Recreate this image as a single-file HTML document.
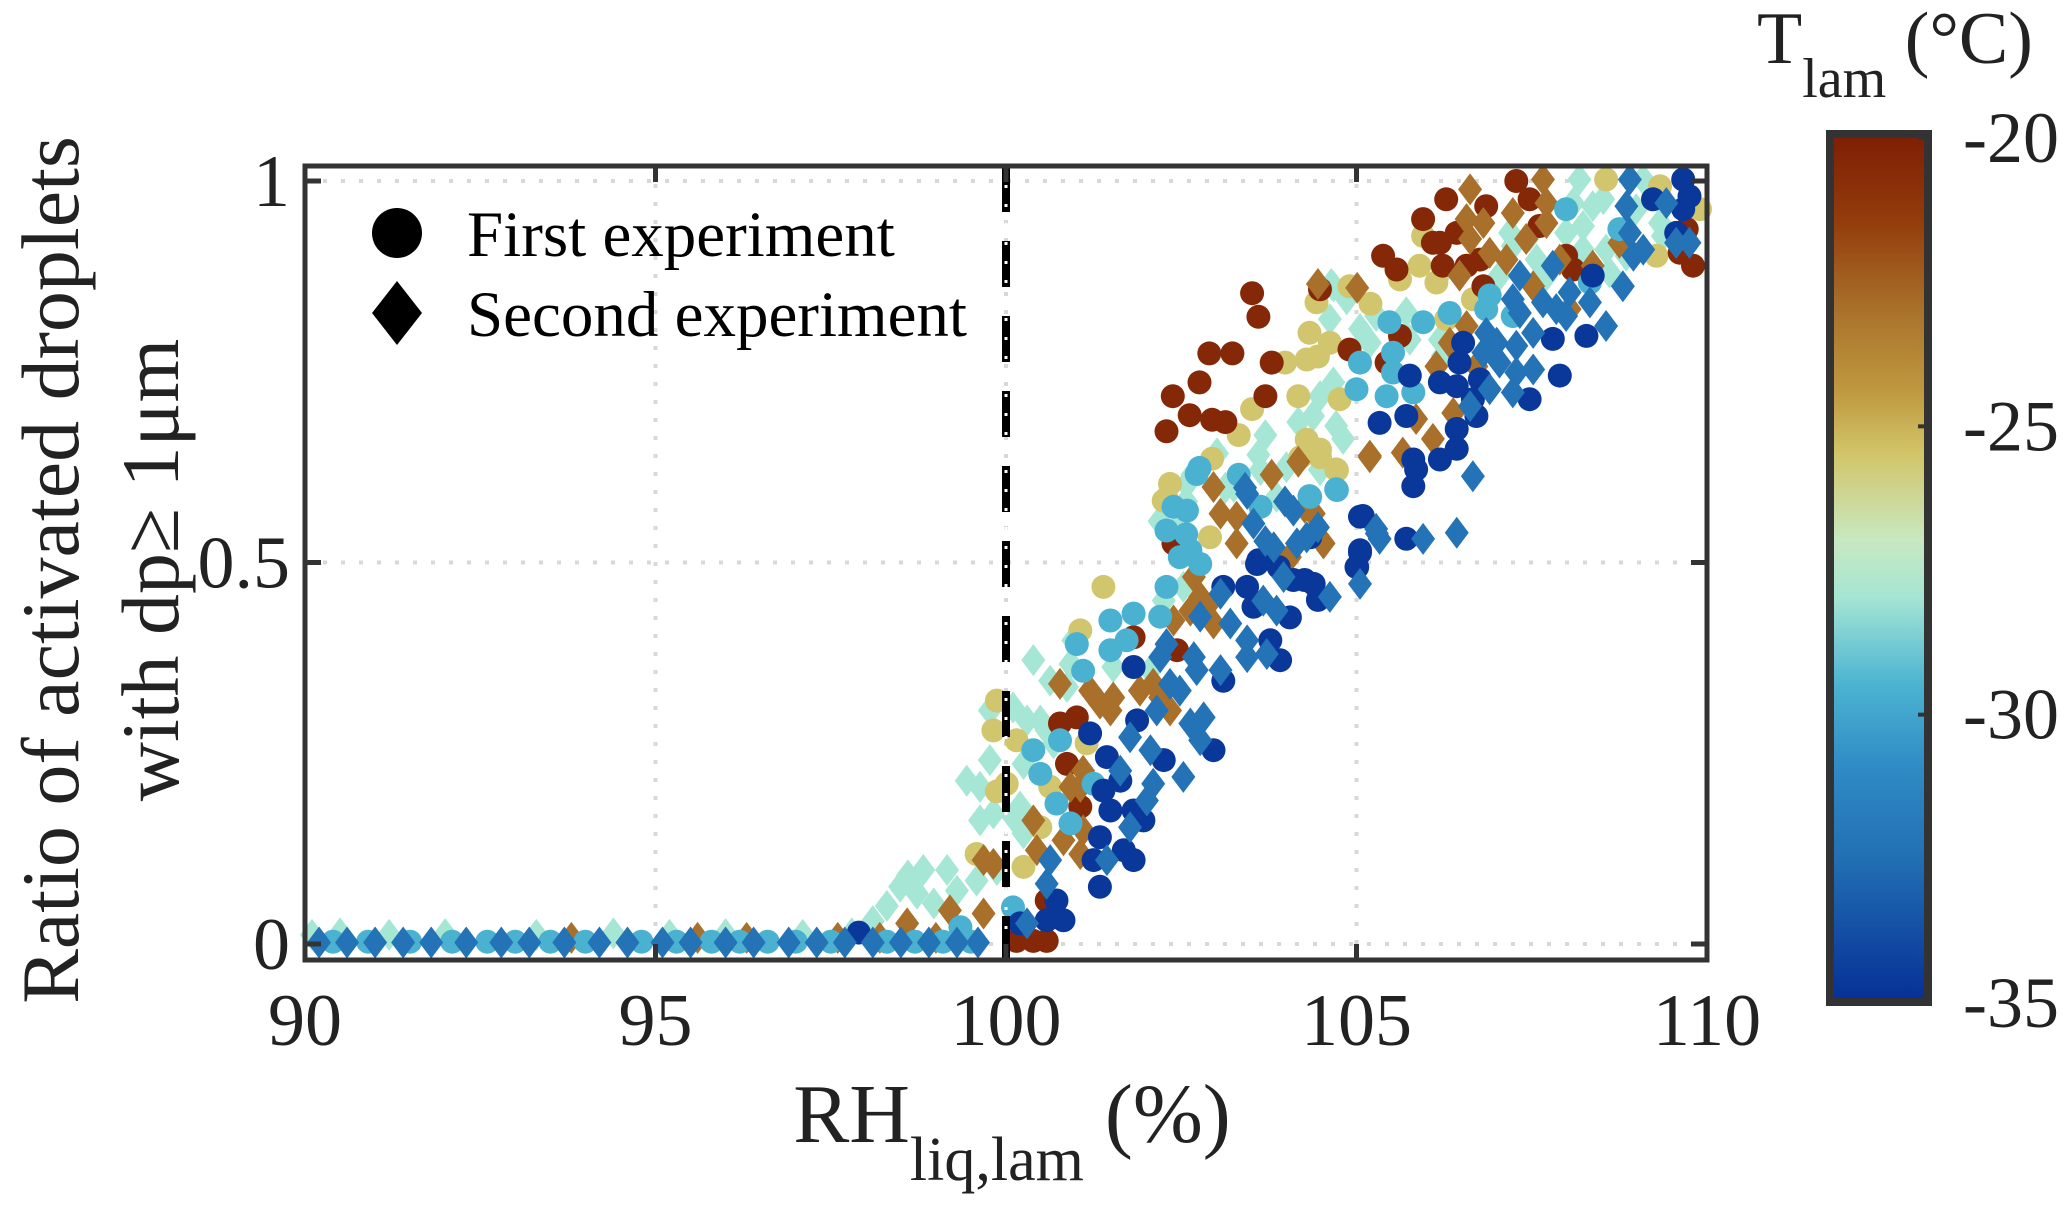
<!DOCTYPE html>
<html><head><meta charset="utf-8">
<style>
html,body{margin:0;padding:0;background:#fff;}
svg{display:block;font-family:"Liberation Serif","DejaVu Serif",serif;}
</style></head>
<body>
<svg id="chart" width="2067" height="1211" viewBox="0 0 2067 1211" xmlns="http://www.w3.org/2000/svg">
<defs>
<linearGradient id="cbgrad" x1="0" y1="0" x2="0" y2="1">
<stop offset="0" stop-color="#7e1e05"/>
<stop offset="0.1" stop-color="#933c0c"/>
<stop offset="0.2" stop-color="#a8702a"/>
<stop offset="0.3" stop-color="#c09a40"/>
<stop offset="0.367" stop-color="#d2c468"/>
<stop offset="0.467" stop-color="#c8e8c0"/>
<stop offset="0.533" stop-color="#a6e6d4"/>
<stop offset="0.633" stop-color="#4cb4d2"/>
<stop offset="0.733" stop-color="#2e8ac4"/>
<stop offset="0.833" stop-color="#2270b4"/>
<stop offset="1" stop-color="#062f96"/>
</linearGradient>
</defs>
<g id="grid"></g>
<g id="marks"></g>
<g id="axes"></g>
<g>
<circle cx="397" cy="233" r="25" fill="#000"/>
<text x="467" y="256" font-size="65" fill="#000">First experiment</text>
<polygon points="397,281 422,313 397,345 372,313" fill="#000"/>
<text x="467" y="336" font-size="65" fill="#000">Second experiment</text>
</g>
<g>
<text x="1012" y="1142" font-size="84" text-anchor="middle" fill="#222">RH<tspan font-size="62" dy="38">liq,lam</tspan><tspan dy="-38"> (%)</tspan></text>
</g>
<g>
<text transform="translate(78,570) rotate(-90)" font-size="82" text-anchor="middle" fill="#222">Ratio of activated droplets</text>
<text transform="translate(178,570) rotate(-90)" font-size="82" text-anchor="middle" fill="#222">with dp≥ 1μm</text>
</g>
<g>
<rect x="1830" y="134" width="98" height="868" fill="url(#cbgrad)" stroke="#333" stroke-width="8"/>
<text x="1757" y="63" font-size="74" fill="#222">T<tspan font-size="56" dy="34">lam</tspan><tspan dy="-34"> (°C)</tspan></text>
</g>
<g id="cbticks"></g>
</svg>
<script>
// ---- data ----
const xTicks = [90, 95, 100, 105, 110];
const yTicks = [0, 0.5, 1];
const yTickLabels = ["0", "0.5", "1"];
const cbTicks = [-20, -25, -30, -35];
const thresholdRH = [100];

// temperatures of each colour group (°C)
const groupTemps = {darkRed:-20.5, brown:-23, gold:-25.6, mint:-28, cyan:-29.6, midBlue:-32.3, darkBlue:-34.7};

// First experiment (circles)
const circDarkRed = [[100.58,0.004],[100.39,0.004],[100.15,0.004],[101.01,0.297],[100.87,0.236],[101.82,0.402],[102.44,0.385],[101.06,0.18],[100.77,0.289],[102.39,0.525],[100.58,0.057],
[107.28,1.0],[106.28,0.976],[105.95,0.95],[105.38,0.902],[105.57,0.884],[106.19,0.919],[106.43,0.932],[106.85,0.967],[106.76,0.897],[107.47,0.976],[104.48,0.858],[104.9,0.779],[105.43,0.762],[105.62,0.797],[106.23,0.889],[106.57,0.889],[106.81,0.862],[107.99,0.902],[108.09,0.884],[109.8,0.889],[109.61,0.906],[109.71,0.937],[106.09,0.919],[107.61,0.941],
[102.29,0.672],[102.62,0.693],[102.9,0.774],[103.23,0.774],[103.51,0.853],[103.6,0.822],[103.79,0.762],[102.94,0.687],[103.13,0.684],[102.38,0.718],[102.76,0.736],[103.7,0.718]];
const circGold = [[99.87,0.319],[99.82,0.28],[99.58,0.118],[100.25,0.101],[100.49,0.153],[100.63,0.206],[100.15,0.267],[101.06,0.411],[101.39,0.468],[102.25,0.581],[102.91,0.533],[102.34,0.603],[101.15,0.263],[104.2,0.638],[104.72,0.621],[104.48,0.638],[100.01,0.21],[99.87,0.2],
[105.95,0.928],[105.62,0.871],[105.9,0.889],[106.14,0.867],[104.9,0.862],[104.43,0.841],[104.33,0.801],[104.62,0.788],[104.29,0.766],[104.76,0.714],[104.29,0.661],[104.71,0.622],[104.48,0.648],[106.66,0.845],[109.33,0.993],[109.28,0.902],[109.9,0.963],[108.56,1.002],[106.28,0.819],
[103.32,0.667],[103.51,0.701],[104.17,0.718],[104.45,0.77],[103.98,0.762],[102.29,0.584],[102.94,0.636],[105.2,0.839]];
const circCyan = [[100.1,0.048],[99.35,0.022],[100.39,0.254],[100.49,0.223],[100.77,0.267],[100.72,0.184],[100.92,0.158],[101.01,0.393],[101.1,0.358],[101.49,0.424],[101.82,0.433],[101.72,0.398],[101.49,0.385],[102.2,0.429],[102.29,0.468],[102.29,0.542],[102.39,0.573],[102.58,0.568],[102.48,0.507],[102.77,0.498],[102.63,0.516],[103.63,0.573],[104.34,0.586],[104.72,0.595],[102.72,0.616],[101.25,0.21],
[105.05,0.762],[105.0,0.727],[105.47,0.815],[105.52,0.775],[105.52,0.749],[105.43,0.718],[105.81,0.723],[105.95,0.815],[106.33,0.827],[106.9,0.85],[106.85,0.832],[107.23,0.823],[107.99,0.963],[108.33,0.867],[108.75,0.937],[104.33,0.587],[104.71,0.596],
[102.76,0.624],[102.57,0.537],[103.32,0.615],
[90.4,0.003],[90.9,0.003],[91.5,0.003],[92.1,0.003],[92.6,0.003],[93.0,0.003],[93.5,0.003],[94.0,0.003],[94.8,0.003],[95.3,0.003],[95.8,0.003],[96.2,0.003],[96.6,0.003],[97.0,0.003],[97.5,0.003],[98.3,0.003],[98.7,0.003],[99.1,0.003],[99.5,0.003]];
const circDarkBlue = [[101.34,0.075],[101.34,0.14],[101.25,0.11],[101.82,0.11],[101.68,0.123],[101.49,0.175],[101.82,0.175],[101.96,0.162],[101.39,0.201],[101.63,0.214],[101.44,0.245],[101.2,0.276],[101.87,0.293],[101.82,0.363],[102.25,0.241],[102.96,0.254],[103.1,0.345],[103.91,0.372],[103.77,0.398],[104.05,0.428],[103.53,0.442],[103.44,0.468],[103.1,0.468],[103.58,0.498],[104.1,0.477],[104.39,0.472],[105.05,0.56],[105.05,0.516],[105.0,0.494],[104.34,0.533],[100.72,0.057],[100.82,0.031],[100.58,0.031],[100.2,0.027],[97.9,0.015],
[106.52,0.788],[106.47,0.762],[105.76,0.745],[106.19,0.736],[106.43,0.731],[106.76,0.74],[106.66,0.714],[106.71,0.692],[106.43,0.675],[106.43,0.649],[106.19,0.635],[105.81,0.635],[105.85,0.622],[105.81,0.6],[105.33,0.683],[105.71,0.692],[107.8,0.793],[108.28,0.797],[107.9,0.745],[107.47,0.714],[109.66,1.002],[109.75,0.98],[109.66,0.963],[109.23,0.976],[109.56,0.932],[105.09,0.561],[105.05,0.513],[105.71,0.531],[108.37,0.876],
[103.89,0.494],[104.26,0.477],[104.45,0.451],[103.6,0.503],[105.01,0.494]];

// Second experiment (diamonds)
const diaBrown = [[99.2,0.044],[99.68,0.04],[99.68,0.11],[99.82,0.105],[100.39,0.162],[100.44,0.123],[100.82,0.136],[101.06,0.118],[101.1,0.149],[101.06,0.206],[100.92,0.206],[101.1,0.227],[101.2,0.332],[101.34,0.315],[101.49,0.306],[101.53,0.323],[101.91,0.332],[102.1,0.341],[102.2,0.323],[102.34,0.306],[102.39,0.424],[102.63,0.437],[102.86,0.442],[102.96,0.42],[102.68,0.481],[102.77,0.455],[102.96,0.599],[103.06,0.564],[103.29,0.56],[103.29,0.525],[104.05,0.507],[104.39,0.564],[104.53,0.525],[105.19,0.638],[98.59,0.027],[100.77,0.341],
[106.62,0.989],[107.66,1.002],[106.57,0.95],[106.81,0.945],[106.62,0.924],[106.9,0.906],[107.23,0.958],[107.71,0.971],[107.71,0.945],[107.14,0.897],[107.42,0.924],[107.9,0.897],[107.52,0.862],[108.37,0.889],[108.75,0.919],[109.56,0.919],[106.47,0.876],[106.57,0.81],[106.33,0.788],[106.71,0.757],[106.14,0.757],[105.85,0.688],[106.09,0.662],[106.38,0.696],[105.19,0.64],[105.66,0.644],[104.38,0.565],[104.52,0.526],[108.04,0.832],
[103.79,0.615],[104.26,0.572],[104.17,0.632],[104.45,0.865],[105.01,0.86],
[93.8,0.008],[95.6,0.008],[96.3,0.008],[97.6,0.008],[98.2,0.008],[99.0,0.008]];
const diaMint = [[98.82,0.097],[99.16,0.097],[98.73,0.066],[98.97,0.053],[98.49,0.075],[99.44,0.214],[99.63,0.206],[99.77,0.241],[99.63,0.162],[99.82,0.171],[99.58,0.083],[99.87,0.097],[99.77,0.306],[100.1,0.31],[100.3,0.293],[100.49,0.293],[100.58,0.28],[100.68,0.263],[100.25,0.236],[100.2,0.18],[100.25,0.145],[100.1,0.167],[100.39,0.372],[100.63,0.345],[100.87,0.337],[100.92,0.367],[100.96,0.398],[101.53,0.363],[102.06,0.359],[102.25,0.45],[102.53,0.468],[102.48,0.551],[102.58,0.603],[103.01,0.643],[103.25,0.599],[103.63,0.621],[103.86,0.586],[104.0,0.625],[104.48,0.621],
[104.67,0.862],[104.86,0.845],[104.62,0.819],[105.28,0.823],[105.19,0.788],[105.05,0.806],[105.71,0.828],[105.76,0.792],[106.19,0.792],[106.23,0.771],[106.19,0.876],[104.67,0.736],[104.48,0.718],[104.38,0.692],[104.71,0.679],[104.81,0.662],[104.48,0.622],[107.19,0.932],[107.47,0.928],[107.23,0.915],[107.04,0.876],[107.57,0.897],[107.71,0.876],[108.18,1.002],[108.09,0.971],[107.99,0.932],[108.23,0.941],[108.37,0.967],[108.52,0.976],[108.23,0.91],[108.56,0.91],[108.61,0.88],[108.85,0.902],[109.09,1.002],[108.99,0.963],[109.33,0.945],[109.37,0.928],
[102.66,0.615],[103.13,0.598],[103.6,0.641],[102.57,0.58],[102.19,0.554],[103.7,0.667],[104.17,0.684],[104.64,0.865],
[90.1,0.012],[90.5,0.014],[91.2,0.012],[92.0,0.013],[93.3,0.012],[94.4,0.014],[95.2,0.012],[96.0,0.013],[97.1,0.012],[97.8,0.014],[98.1,0.03],[98.3,0.05],[98.6,0.09],[99.3,0.07]];
const diaMidBlue = [[101.44,0.11],[100.58,0.079],[100.63,0.11],[100.3,0.027],[101.77,0.153],[101.63,0.227],[101.77,0.271],[102.06,0.254],[102.1,0.21],[102.01,0.188],[102.53,0.219],[102.15,0.306],[102.34,0.341],[102.48,0.332],[102.63,0.289],[102.77,0.267],[102.82,0.297],[102.29,0.393],[102.2,0.376],[102.68,0.376],[102.72,0.359],[103.06,0.459],[103.2,0.42],[103.06,0.359],[103.44,0.376],[103.44,0.398],[103.72,0.38],[103.67,0.45],[103.86,0.437],[104.62,0.455],[103.82,0.52],[104.15,0.525],[104.29,0.533],[103.96,0.481],[105.05,0.472],[105.29,0.538],[104.1,0.568],[103.53,0.551],[103.44,0.59],[102.77,0.429],
[106.62,0.705],[106.9,0.727],[106.85,0.801],[107.0,0.788],[106.81,0.775],[107.04,0.762],[107.28,0.784],[107.28,0.749],[107.23,0.723],[107.52,0.753],[107.52,0.801],[107.33,0.827],[107.23,0.845],[107.33,0.876],[107.66,0.841],[107.8,0.889],[107.85,0.832],[107.99,0.823],[108.04,0.854],[108.33,0.841],[108.56,0.81],[108.8,0.862],[108.85,0.967],[108.9,0.932],[108.95,0.902],[109.09,0.91],[108.9,1.002],[109.42,0.971],[109.56,0.919],[109.75,0.919],[106.66,0.613],[106.43,0.539],[105.95,0.531],[105.33,0.531],[105.28,0.544],
[103.41,0.598],[103.7,0.528],[103.98,0.58],[104.45,0.546],
[90.2,0.002],[90.6,0.002],[91.0,0.002],[91.4,0.002],[91.8,0.002],[92.3,0.002],[92.8,0.002],[93.2,0.002],[93.7,0.002],[94.2,0.002],[94.6,0.002],[95.1,0.002],[95.5,0.002],[96.0,0.002],[96.4,0.002],[96.9,0.002],[97.3,0.002],[97.7,0.002],[98.1,0.002],[98.5,0.002],[98.9,0.002],[99.3,0.002],[99.6,0.002]];

// ---- scales ----
const X0=305, X1=1707, Y0=944, Y1=181;
function xs(v){return X0+(v-90)/(110-90)*(X1-X0);}
function ys(v){return Y0+(v-0)/(1-0)*(Y1-Y0);}
function cbY(t){return 138+(-20-t)/15*865;}
const cmapT=[-20,-21.5,-23,-24.5,-25.5,-27,-28,-29.5,-31,-32.5,-35];
const cmapC=["#7e1e05","#933c0c","#a8702a","#c09a40","#d2c468","#c8e8c0","#a6e6d4","#4cb4d2","#2e8ac4","#2270b4","#062f96"];
function hex(c){return [parseInt(c.substr(1,2),16),parseInt(c.substr(3,2),16),parseInt(c.substr(5,2),16)];}
function cmap(t){
  for(let i=0;i<cmapT.length-1;i++){
    if(t<=cmapT[i] && t>=cmapT[i+1]){
      const f=(cmapT[i]-t)/(cmapT[i]-cmapT[i+1]);
      const a=hex(cmapC[i]),b=hex(cmapC[i+1]);
      return "rgb("+a.map((v,k)=>Math.round(v+(b[k]-v)*f)).join(",")+")";
    }
  }
  return t>-20?cmapC[0]:cmapC[cmapC.length-1];
}
const NS="http://www.w3.org/2000/svg";
function mk(tag,attrs,parent){const e=document.createElementNS(NS,tag);for(const k in attrs)e.setAttribute(k,attrs[k]);parent.appendChild(e);return e;}

// ---- grid ----
const grid=document.getElementById('grid');
yTicks.forEach(v=>{
  const l=mk('line',{x1:X0,x2:X1,y1:ys(v),y2:ys(v),stroke:'#d8d8d8','stroke-width':4,'stroke-dasharray':'4 14'},grid);
  
  
});
xTicks.slice(1,-1).forEach(v=>{
  const l=mk('line',{x1:xs(v),x2:xs(v),y1:166,y2:960,stroke:'#d8d8d8','stroke-width':4,'stroke-dasharray':'4 14'},grid);
  
  
});

// ---- marks ----
const marks=document.getElementById('marks');
function circles(arr,t,name){
  arr.forEach(p=>{
    const c=mk('circle',{cx:xs(p[0]).toFixed(1),cy:ys(p[1]).toFixed(1),r:12,fill:cmap(t)},marks);
    
    
  });
}
function diamonds(arr,t,name){
  arr.forEach(p=>{
    const x=xs(p[0]),y=ys(p[1]);
    const d=mk('polygon',{points:`${x},${y-16} ${x+12},${y} ${x},${y+16} ${x-12},${y}`,fill:cmap(t)},marks);
    
    
  });
}
diamonds(diaMint,groupTemps.mint,'point-second-mint');
circles(circGold,groupTemps.gold,'point-first-gold');
circles(circDarkRed,groupTemps.darkRed,'point-first-darkred');
diamonds(diaBrown,groupTemps.brown,'point-second-brown');
circles(circCyan,groupTemps.cyan,'point-first-cyan');
circles(circDarkBlue,groupTemps.darkBlue,'point-first-darkblue');
diamonds(diaMidBlue,groupTemps.midBlue,'point-second-midblue');

// ---- threshold line ----
thresholdRH.forEach(v=>{
  const a=mk('line',{x1:xs(v),x2:xs(v),y1:166,y2:960,stroke:'#000','stroke-width':8,'stroke-dasharray':'46 29'},marks);
  
  
  const b=mk('line',{x1:xs(v),x2:xs(v),y1:166,y2:960,stroke:'#fff','stroke-width':3,'stroke-dasharray':'3 16'},marks);
  
  
});

// ---- axes ----
const axes=document.getElementById('axes');
const box=mk('rect',{x:305,y:166,width:1402,height:794,fill:'none',stroke:'#333','stroke-width':5},axes);


xTicks.forEach(v=>{
  const t1=mk('line',{x1:xs(v),x2:xs(v),y1:960,y2:944,stroke:'#333','stroke-width':5},axes);
  
  
  const t2=mk('line',{x1:xs(v),x2:xs(v),y1:166,y2:182,stroke:'#333','stroke-width':5},axes);
  
  
  const lb=mk('text',{x:xs(v),y:1045,'font-size':74,'text-anchor':'middle',fill:'#222'},axes);
  lb.textContent=String(v);
  
  
});
yTicks.forEach((v,i)=>{
  const t1=mk('line',{x1:305,x2:321,y1:ys(v),y2:ys(v),stroke:'#333','stroke-width':5},axes);
  
  
  const t2=mk('line',{x1:1691,x2:1707,y1:ys(v),y2:ys(v),stroke:'#333','stroke-width':5},axes);
  
  
  const lb=mk('text',{x:290,y:ys(v)+25,'font-size':74,'text-anchor':'end',fill:'#222'},axes);
  lb.textContent=yTickLabels[i];
  
  
});

// ---- colorbar ticks ----
const cbt=document.getElementById('cbticks');
cbTicks.forEach(t=>{
  const l=mk('line',{x1:1918,x2:1930,y1:cbY(t),y2:cbY(t),stroke:'#333','stroke-width':4},cbt);
  
  
  const lb=mk('text',{x:1963,y:cbY(t)+24,'font-size':72,fill:'#222'},cbt);
  lb.textContent=String(t);
  
  
});
</script>
</body></html>
